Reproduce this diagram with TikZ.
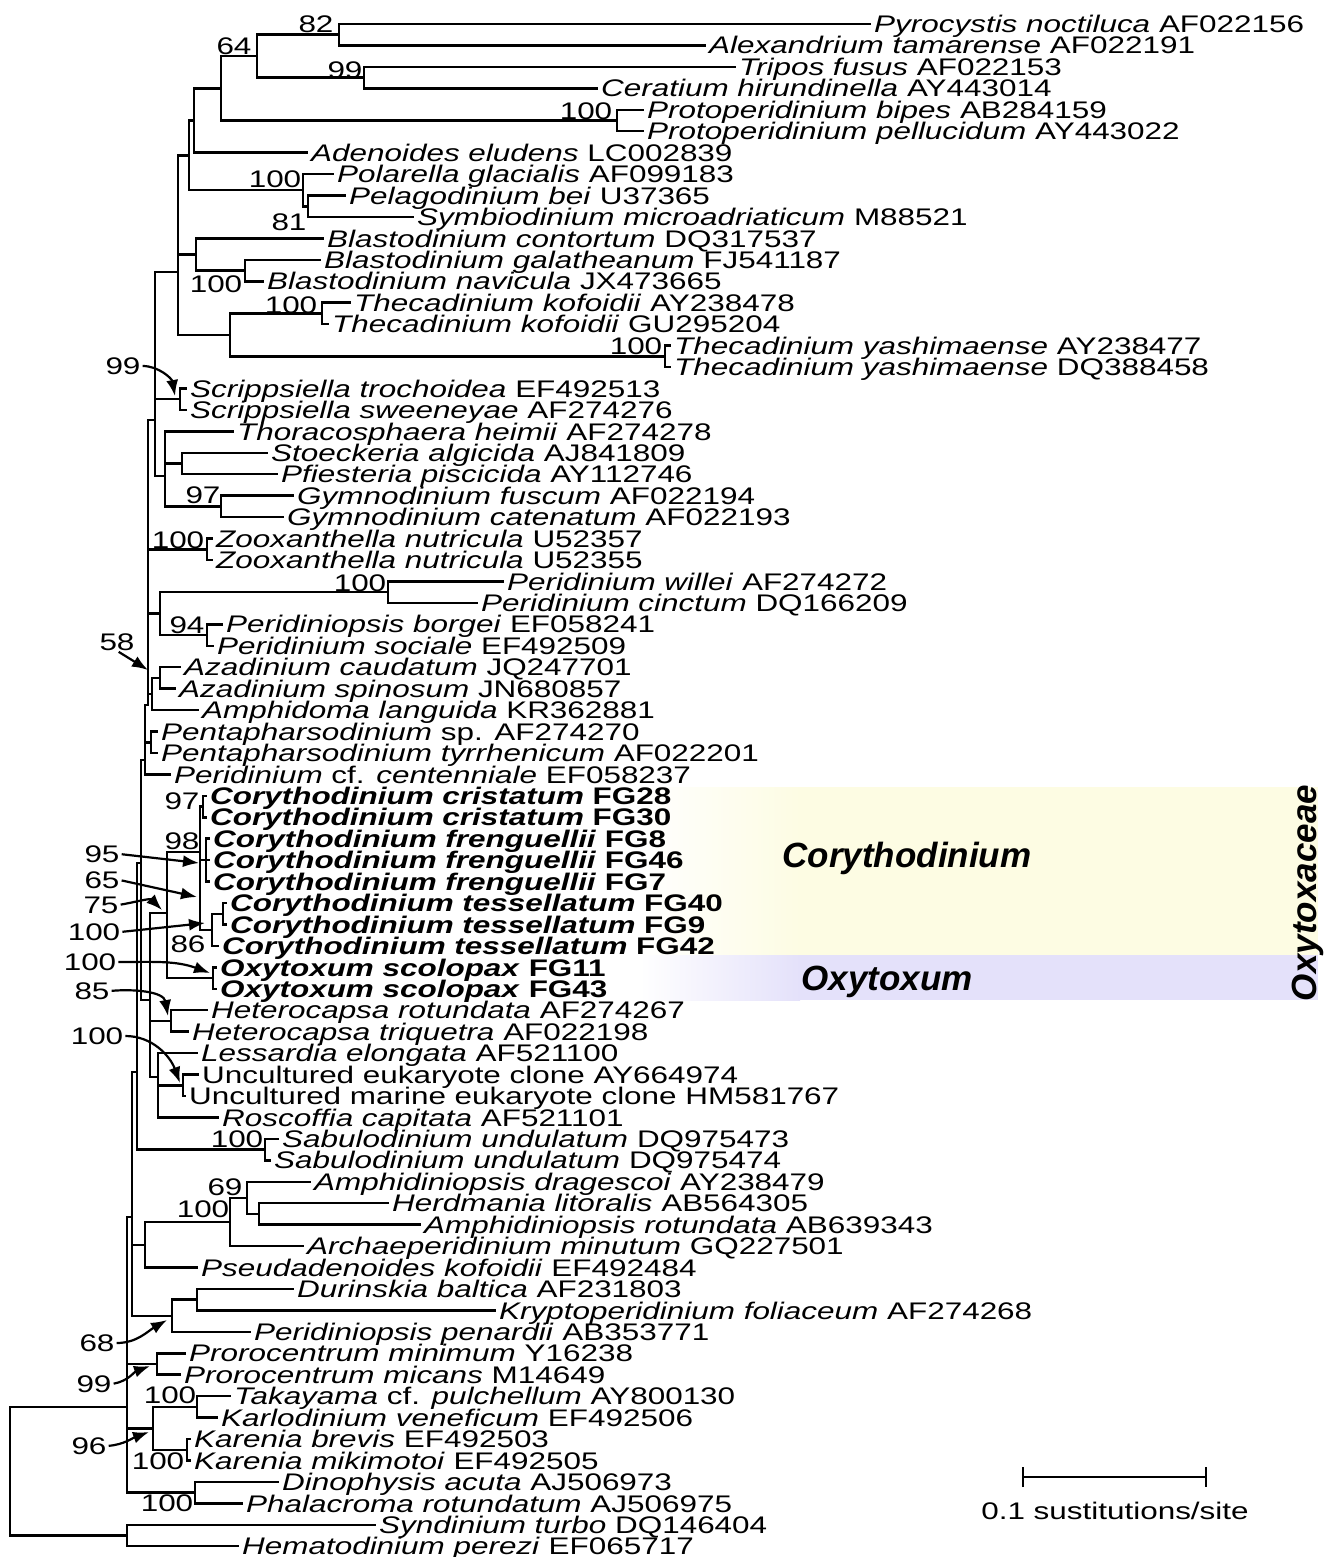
\documentclass[tikz,border=0pt]{standalone}
\usepackage{fontspec}
\setmainfont{Liberation Sans}
\newfontfamily\treefam{Liberation Sans}[FakeStretch=1.31]
\usepackage{tikz}
\usetikzlibrary{arrows.meta,positioning}
\definecolor{CoryYellow}{HTML}{FDFCE3}
\definecolor{OxyLilac}{HTML}{E4E1FA}
\newcommand{\treefont}{\treefam\fontsize{24}{26}\selectfont}
\newcommand{\gs}[1]{\textit{#1}}
\tikzset{
  taxon/.style={anchor=west, inner xsep=4pt, inner ysep=0pt, text height=17.2pt, text depth=0pt, font=\treefont},
  taxonb/.style={taxon, font=\treefont\bfseries},
  boot/.style={inner sep=0pt, text height=17.2pt, text depth=0pt, font=\treefont},
  branch/.style={line width=2.5pt, line cap=rect},
  callout/.style={line width=2.2pt, -{Latex[length=16pt,width=12pt]}, shorten <=2pt},
  clade/.style={inner sep=0pt, text height=25pt, text depth=0pt, font=\fontsize{35}{37}\selectfont\bfseries\itshape},
  scalebar/.style={line width=2.2pt, {Bar[width=20pt]}-{Bar[width=20pt]}}
}

\begin{document}
\begin{tikzpicture}[x=1pt, y=-1pt]
\useasboundingbox (0,0) rectangle (1327,1557);

% shaded clade boxes
\shade[left color=white, right color=CoryYellow] (640,787) rectangle (800,955);
\fill[CoryYellow] (800,787) rectangle (1318,955);
\shade[left color=white, right color=OxyLilac] (640,955) rectangle (800,1000);
\fill[OxyLilac] (800,955) rectangle (1318,1000);

% taxa
\node[taxon] (t01) at (870,24.0) {\gs{Pyrocystis noctiluca} AF022156};
\node[taxon] (t02) at (705,45.4) {\gs{Alexandrium tamarense} AF022191};
\node[taxon] (t03) at (735,66.9) {\gs{Tripos fusus} AF022153};
\node[taxon] (t04) at (597,88.3) {\gs{Ceratium hirundinella} AY443014};
\node[taxon] (t05) at (643,109.8) {\gs{Protoperidinium bipes} AB284159};
\node[taxon] (t06) at (643,131.2) {\gs{Protoperidinium pellucidum} AY443022};
\node[taxon] (t07) at (307,152.6) {\gs{Adenoides eludens} LC002839};
\node[taxon] (t08) at (333,174.1) {\gs{Polarella glacialis} AF099183};
\node[taxon] (t09) at (345,195.5) {\gs{Pelagodinium bei} U37365};
\node[taxon] (t10) at (413,217.0) {\gs{Symbiodinium microadriaticum} M88521};
\node[taxon] (t11) at (323,238.4) {\gs{Blastodinium contortum} DQ317537};
\node[taxon] (t12) at (320,259.8) {\gs{Blastodinium galatheanum} FJ541187};
\node[taxon] (t13) at (263,281.3) {\gs{Blastodinium navicula} JX473665};
\node[taxon] (t14) at (350,302.7) {\gs{Thecadinium kofoidii} AY238478};
\node[taxon] (t15) at (328,324.2) {\gs{Thecadinium kofoidii} GU295204};
\node[taxon] (t16) at (670,345.6) {\gs{Thecadinium yashimaense} AY238477};
\node[taxon] (t17) at (670,367.0) {\gs{Thecadinium yashimaense} DQ388458};
\node[taxon] (t18) at (186,388.5) {\gs{Scrippsiella trochoidea} EF492513};
\node[taxon] (t19) at (186,409.9) {\gs{Scrippsiella sweeneyae} AF274276};
\node[taxon] (t20) at (233,431.4) {\gs{Thoracosphaera heimii} AF274278};
\node[taxon] (t21) at (267,452.8) {\gs{Stoeckeria algicida} AJ841809};
\node[taxon] (t22) at (277,474.2) {\gs{Pfiesteria piscicida} AY112746};
\node[taxon] (t23) at (293,495.7) {\gs{Gymnodinium fuscum} AF022194};
\node[taxon] (t24) at (283,517.1) {\gs{Gymnodinium catenatum} AF022193};
\node[taxon] (t25) at (212,538.6) {\gs{Zooxanthella nutricula} U52357};
\node[taxon] (t26) at (212,560.0) {\gs{Zooxanthella nutricula} U52355};
\node[taxon] (t27) at (503,581.4) {\gs{Peridinium willei} AF274272};
\node[taxon] (t28) at (477,602.9) {\gs{Peridinium cinctum} DQ166209};
\node[taxon] (t29) at (222,624.3) {\gs{Peridiniopsis borgei} EF058241};
\node[taxon] (t30) at (213,645.8) {\gs{Peridinium sociale} EF492509};
\node[taxon] (t31) at (180,667.2) {\gs{Azadinium caudatum} JQ247701};
\node[taxon] (t32) at (175,688.6) {\gs{Azadinium spinosum} JN680857};
\node[taxon] (t33) at (198,710.1) {\gs{Amphidoma languida} KR362881};
\node[taxon] (t34) at (157,731.5) {\gs{Pentapharsodinium} sp. AF274270};
\node[taxon] (t35) at (157,753.0) {\gs{Pentapharsodinium tyrrhenicum} AF022201};
\node[taxon] (t36) at (170,774.4) {\gs{Peridinium} cf. \gs{centenniale} EF058237};
\node[taxonb] (t37) at (206,795.8) {\gs{Corythodinium cristatum} FG28};
\node[taxonb] (t38) at (206,817.3) {\gs{Corythodinium cristatum} FG30};
\node[taxonb] (t39) at (209,838.7) {\gs{Corythodinium frenguellii} FG8};
\node[taxonb] (t40) at (209,860.2) {\gs{Corythodinium frenguellii} FG46};
\node[taxonb] (t41) at (209,881.6) {\gs{Corythodinium frenguellii} FG7};
\node[taxonb] (t42) at (226,903.0) {\gs{Corythodinium tessellatum} FG40};
\node[taxonb] (t43) at (226,924.5) {\gs{Corythodinium tessellatum} FG9};
\node[taxonb] (t44) at (218,945.9) {\gs{Corythodinium tessellatum} FG42};
\node[taxonb] (t45) at (216,967.4) {\gs{Oxytoxum scolopax} FG11};
\node[taxonb] (t46) at (216,988.8) {\gs{Oxytoxum scolopax} FG43};
\node[taxon] (t47) at (207,1010.2) {\gs{Heterocapsa rotundata} AF274267};
\node[taxon] (t48) at (188,1031.7) {\gs{Heterocapsa triquetra} AF022198};
\node[taxon] (t49) at (197,1053.1) {\gs{Lessardia elongata} AF521100};
\node[taxon] (t50) at (198,1074.6) {Uncultured eukaryote clone AY664974};
\node[taxon] (t51) at (185,1096.0) {Uncultured marine eukaryote clone HM581767};
\node[taxon] (t52) at (218,1117.4) {\gs{Roscoffia capitata} AF521101};
\node[taxon] (t53) at (278,1138.9) {\gs{Sabulodinium undulatum} DQ975473};
\node[taxon] (t54) at (270,1160.3) {\gs{Sabulodinium undulatum} DQ975474};
\node[taxon] (t55) at (310,1181.8) {\gs{Amphidiniopsis dragescoi} AY238479};
\node[taxon] (t56) at (388,1203.2) {\gs{Herdmania litoralis} AB564305};
\node[taxon] (t57) at (420,1224.6) {\gs{Amphidiniopsis rotundata} AB639343};
\node[taxon] (t58) at (303,1246.1) {\gs{Archaeperidinium minutum} GQ227501};
\node[taxon] (t59) at (197,1267.5) {\gs{Pseudadenoides kofoidii} EF492484};
\node[taxon] (t60) at (293,1289.0) {\gs{Durinskia baltica} AF231803};
\node[taxon] (t61) at (495,1310.4) {\gs{Kryptoperidinium foliaceum} AF274268};
\node[taxon] (t62) at (250,1331.8) {\gs{Peridiniopsis penardii} AB353771};
\node[taxon] (t63) at (185,1353.3) {\gs{Prorocentrum minimum} Y16238};
\node[taxon] (t64) at (180,1374.7) {\gs{Prorocentrum micans} M14649};
\node[taxon] (t65) at (230,1396.2) {\gs{Takayama} cf. \gs{pulchellum} AY800130};
\node[taxon] (t66) at (217,1417.6) {\gs{Karlodinium veneficum} EF492506};
\node[taxon] (t67) at (190,1439.0) {\gs{Karenia brevis} EF492503};
\node[taxon] (t68) at (190,1460.5) {\gs{Karenia mikimotoi} EF492505};
\node[taxon] (t69) at (278,1481.9) {\gs{Dinophysis acuta} AJ506973};
\node[taxon] (t70) at (242,1503.4) {\gs{Phalacroma rotundatum} AJ506975};
\node[taxon] (t71) at (375,1524.8) {\gs{Syndinium turbo} DQ146404};
\node[taxon] (t72) at (238,1546.2) {\gs{Hematodinium perezi} EF065717};

% internal nodes
\coordinate (n82) at (339,34.7);
\coordinate (n99) at (364,77.6);
\coordinate (nA) at (257,56.2);
\coordinate (nPP) at (617,120.5);
\coordinate (n64) at (221,88.4);
\coordinate (nB1) at (194,120.5);
\coordinate (n81) at (308,206.3);
\coordinate (nPol) at (303,190.2);
\coordinate (nB2) at (189,155.4);
\coordinate (nBgn) at (245,270.6);
\coordinate (nBla) at (196,254.5);
\coordinate (nTko) at (322,313.5);
\coordinate (nTya) at (665,356.3);
\coordinate (nThe) at (230,334.9);
\coordinate (nB3) at (178,272);
\coordinate (nScr) at (180,399.2);
\coordinate (nSP) at (182,463.5);
\coordinate (nGym) at (221,506.4);
\coordinate (nTho) at (165,476);
\coordinate (nB4) at (155,420);
\coordinate (nZoo) at (207,549.3);
\coordinate (nPw) at (388,592.2);
\coordinate (nPb) at (207,635.1);
\coordinate (nPer) at (160,613.6);
\coordinate (nAzc) at (160,677.9);
\coordinate (nAza) at (152,694.0);
\coordinate (nB5) at (148,705);
\coordinate (nPen) at (151,742.3);
\coordinate (nB6) at (145,760);
\coordinate (nCri) at (203,806.6);
\coordinate (nFre) at (206,860.2);
\coordinate (nTp) at (223,913.8);
\coordinate (nTes) at (212,929.8);
\coordinate (nCory) at (200,852);
\coordinate (nOxy) at (213,978.1);
\coordinate (nCO) at (167,913);
\coordinate (nHet) at (171,1021.0);
\coordinate (nUnc) at (183,1085.3);
\coordinate (nLes) at (158,1077);
\coordinate (nB7) at (150,1000);
\coordinate (nB8) at (141,863);
\coordinate (nSab) at (265,1149.6);
\coordinate (nB9) at (137,1072);
\coordinate (nA69h) at (259,1213.9);
\coordinate (nA69) at (247,1197.9);
\coordinate (nA100) at (230,1222.0);
\coordinate (nAmc) at (145,1244.8);
\coordinate (nDk) at (197,1299.7);
\coordinate (nDur) at (172,1315.8);
\coordinate (nB10) at (132,1217);
\coordinate (nPro) at (157,1364.0);
\coordinate (nTk) at (197,1406.9);
\coordinate (nKa) at (187,1449.8);
\coordinate (nKt) at (153,1428.3);
\coordinate (nDin) at (195,1492.7);
\coordinate (nIn) at (127,1407);
\coordinate (nSy) at (127,1535.5);
\coordinate (nRoot) at (10,1470);

% branches
\draw[branch] (n82) |- (t01.west) (n82) |- (t02.west);
\draw[branch] (n99) |- (t03.west) (n99) |- (t04.west);
\draw[branch] (nA) |- (n82) (nA) |- (n99);
\draw[branch] (nPP) |- (t05.west) (nPP) |- (t06.west);
\draw[branch] (n64) |- (nA) (n64) |- (nPP);
\draw[branch] (nB1) |- (n64) (nB1) |- (t07.west);
\draw[branch] (n81) |- (t09.west) (n81) |- (t10.west);
\draw[branch] (nPol) |- (t08.west) (nPol) |- (n81);
\draw[branch] (nB2) |- (nB1) (nB2) |- (nPol);
\draw[branch] (nBgn) |- (t12.west) (nBgn) |- (t13.west);
\draw[branch] (nBla) |- (t11.west) (nBla) |- (nBgn);
\draw[branch] (nTko) |- (t14.west) (nTko) |- (t15.west);
\draw[branch] (nTya) |- (t16.west) (nTya) |- (t17.west);
\draw[branch] (nThe) |- (nTko) (nThe) |- (nTya);
\draw[branch] (nB3) |- (nB2) (nB3) |- (nBla) (nB3) |- (nThe);
\draw[branch] (nScr) |- (t18.west) (nScr) |- (t19.west);
\draw[branch] (nSP) |- (t21.west) (nSP) |- (t22.west);
\draw[branch] (nGym) |- (t23.west) (nGym) |- (t24.west);
\draw[branch] (nTho) |- (t20.west) (nTho) |- (nSP) (nTho) |- (nGym);
\draw[branch] (nB4) |- (nB3) (nB4) |- (nScr) (nB4) |- (nTho);
\draw[branch] (nZoo) |- (t25.west) (nZoo) |- (t26.west);
\draw[branch] (nPw) |- (t27.west) (nPw) |- (t28.west);
\draw[branch] (nPb) |- (t29.west) (nPb) |- (t30.west);
\draw[branch] (nPer) |- (nPw) (nPer) |- (nPb);
\draw[branch] (nAzc) |- (t31.west) (nAzc) |- (t32.west);
\draw[branch] (nAza) |- (nAzc) (nAza) |- (t33.west);
\draw[branch] (nB5) |- (nB4) (nB5) |- (nZoo) (nB5) |- (nPer) (nB5) |- (nAza);
\draw[branch] (nPen) |- (t34.west) (nPen) |- (t35.west);
\draw[branch] (nB6) |- (nB5) (nB6) |- (nPen) (nB6) |- (t36.west);
\draw[branch] (nCri) |- (t37.west) (nCri) |- (t38.west);
\draw[branch] (nFre) |- (t39.west) (nFre) |- (t40.west) (nFre) |- (t41.west);
\draw[branch] (nTp) |- (t42.west) (nTp) |- (t43.west);
\draw[branch] (nTes) |- (nTp) (nTes) |- (t44.west);
\draw[branch] (nCory) |- (nCri) (nCory) |- (nFre) (nCory) |- (nTes);
\draw[branch] (nOxy) |- (t45.west) (nOxy) |- (t46.west);
\draw[branch] (nCO) |- (nCory) (nCO) |- (nOxy);
\draw[branch] (nHet) |- (t47.west) (nHet) |- (t48.west);
\draw[branch] (nUnc) |- (t50.west) (nUnc) |- (t51.west);
\draw[branch] (nLes) |- (t49.west) (nLes) |- (nUnc) (nLes) |- (t52.west);
\draw[branch] (nB7) |- (nCO) (nB7) |- (nHet) (nB7) |- (nLes);
\draw[branch] (nB8) |- (nB6) (nB8) |- (nB7);
\draw[branch] (nSab) |- (t53.west) (nSab) |- (t54.west);
\draw[branch] (nB9) |- (nB8) (nB9) |- (nSab);
\draw[branch] (nA69h) |- (t56.west) (nA69h) |- (t57.west);
\draw[branch] (nA69) |- (t55.west) (nA69) |- (nA69h);
\draw[branch] (nA100) |- (nA69) (nA100) |- (t58.west);
\draw[branch] (nAmc) |- (nA100) (nAmc) |- (t59.west);
\draw[branch] (nDk) |- (t60.west) (nDk) |- (t61.west);
\draw[branch] (nDur) |- (nDk) (nDur) |- (t62.west);
\draw[branch] (nB10) |- (nB9) (nB10) |- (nAmc) (nB10) |- (nDur);
\draw[branch] (nPro) |- (t63.west) (nPro) |- (t64.west);
\draw[branch] (nTk) |- (t65.west) (nTk) |- (t66.west);
\draw[branch] (nKa) |- (t67.west) (nKa) |- (t68.west);
\draw[branch] (nKt) |- (nTk) (nKt) |- (nKa);
\draw[branch] (nDin) |- (t69.west) (nDin) |- (t70.west);
\draw[branch] (nIn) |- (nB10) (nIn) |- (nPro) (nIn) |- (nKt) (nIn) |- (nDin);
\draw[branch] (nSy) |- (t71.west) (nSy) |- (t72.west);
\draw[branch] (nRoot) |- (nIn) (nRoot) |- (nSy);

% bootstrap values
\node[boot] (b82) at (316,23.5) {82};
\node[boot] (b64) at (234,46) {64};
\node[boot] (b99t) at (345,70) {99};
\node[boot] (b100pp) at (586,111) {100};
\node[boot] (b100pol) at (275,179) {100};
\node[boot] (b81) at (289,222) {81};
\node[boot] (b100bla) at (216,284) {100};
\node[boot] (b100tko) at (291,305) {100};
\node[boot] (b100tya) at (636,346) {100};
\node[boot] (b99s) at (123,366) {99};
\node[boot] (b97g) at (203,495) {97};
\node[boot] (b100zoo) at (178,540) {100};
\node[boot] (b100pw) at (360,583) {100};
\node[boot] (b94) at (187,625) {94};
\node[boot] (b58) at (117,642) {58};
\node[boot] (b97c) at (182,801) {97};
\node[boot] (b98) at (182,841) {98};
\node[boot] (b95) at (102,854) {95};
\node[boot] (b65) at (102,880) {65};
\node[boot] (b75) at (101,905) {75};
\node[boot] (b100tes) at (94,932) {100};
\node[boot] (b86) at (188,944) {86};
\node[boot] (b100oxy) at (90,962) {100};
\node[boot] (b85) at (92,991) {85};
\node[boot] (b100unc) at (97,1036) {100};
\node[boot] (b100sab) at (237,1139) {100};
\node[boot] (b69) at (225,1187) {69};
\node[boot] (b100amp) at (203,1209) {100};
\node[boot] (b68) at (97,1343) {68};
\node[boot] (b99p) at (94,1384) {99};
\node[boot] (b100tk) at (170,1395) {100};
\node[boot] (b96) at (89,1446) {96};
\node[boot] (b100ka) at (158,1461) {100};
\node[boot] (b100din) at (167,1503) {100};

% arrow targets
\coordinate (a99s) at (175,396);
\coordinate (a58) at (148,670);
\coordinate (a95) at (199,863);
\coordinate (a65) at (197,897);
\coordinate (a75) at (162,910);
\coordinate (a100tes) at (205,923);
\coordinate (a100oxy) at (210,973);
\coordinate (a85) at (168,1016);
\coordinate (a100unc) at (180,1083);
\coordinate (a68) at (167,1320);
\coordinate (a99p) at (150,1366);
\coordinate (a96) at (149,1432);

\draw[callout] (b99s.east) to[out=0,in=100] (a99s);
\draw[callout] (b58.south) -- (a58);
\draw[callout] (b95.east) -- (a95);
\draw[callout] (b65.east) -- (a65);
\draw[callout] (b75.east) to[out=10,in=135] (a75);
\draw[callout] (b100tes.east) -- (a100tes);
\draw[callout] (b100oxy.east) to[out=0,in=160] (a100oxy);
\draw[callout] (b85.east) to[out=5,in=100] (a85);
\draw[callout] (b100unc.east) to[out=0,in=110] (a100unc);
\draw[callout] (b68.east) to[out=0,in=210] (a68);
\draw[callout] (b99p.east) to[out=10,in=200] (a99p);
\draw[callout] (b96.east) to[out=5,in=200] (a96);

% clade names
\node[clade] (lcory) at (907,855) {Corythodinium};
\node[clade] (loxy) at (887,978) {Oxytoxum};
\node[clade, rotate=90] (lfam) at (1304,893) {Oxytoxaceae};

% scale
\coordinate (sbL) at (1022,1477);
\coordinate (sbR) at (1207,1477);
\draw[scalebar] (sbL) -- (sbR);
\node[boot] (sblab) at (1115,1511) {0.1 sustitutions/site};
\end{tikzpicture}
\end{document}
